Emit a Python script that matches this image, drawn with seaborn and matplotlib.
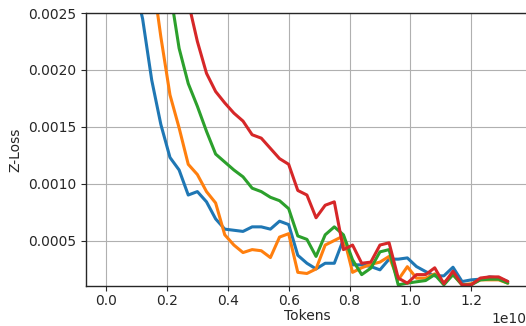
import matplotlib
matplotlib.use("Agg")
import matplotlib.pyplot as plt
import seaborn as sns
import pandas as pd

# Tokens in units of 1e9
tokens_e9 = [0.0, 0.3, 0.6, 0.9, 1.2, 1.5, 1.8, 2.1, 2.4, 2.7, 3.0, 3.3, 3.6, 3.9, 4.2,
             4.5, 4.8, 5.1, 5.4, 5.7, 6.0, 6.3, 6.6, 6.9, 7.2, 7.5, 7.8, 8.1, 8.4, 8.7,
             9.0, 9.3, 9.6, 9.9, 10.2, 10.5, 10.8, 11.1, 11.4, 11.7, 12.0, 12.3, 12.6,
             12.9, 13.2]

run_1 = [0.0200, 0.0090, 0.0045, 0.00279, 0.00245, 0.00191, 0.00152, 0.00123, 0.00112,
         0.00090, 0.00093, 0.00084, 0.00069, 0.00060, 0.00059, 0.00058, 0.00062, 0.00062,
         0.00060, 0.00067, 0.00064, 0.00037, 0.00030, 0.00025, 0.00030, 0.00030, 0.00051,
         0.000286, 0.000286, 0.000271, 0.000242, 0.000336, 0.000336, 0.000347, 0.000271,
         0.000227, 0.000189, 0.000189, 0.000265, 0.000139, 0.000154, 0.00016, 0.00018,
         0.000171, 0.000139]

run_2 = [0.030, 0.014, 0.0070, 0.0045, 0.0035, 0.00287, 0.00229, 0.00178, 0.00149,
         0.00117, 0.00108, 0.00093, 0.00083, 0.00055, 0.00046, 0.000394, 0.00042, 0.00041,
         0.00035, 0.00053, 0.00056, 0.00022, 0.00021, 0.00025, 0.00046, 0.00050, 0.00054,
         0.00022, 0.00026, 0.00029, 0.00031, 0.00036, 0.000154, 0.00027, 0.000169,
         0.000169, 0.000207, 0.00013, 0.00020, 0.00011, 0.00012, 0.000154, 0.000154,
         0.000154, 0.000125]

run_3 = [0.040, 0.020, 0.010, 0.0065, 0.0048, 0.0038, 0.0032, 0.0027, 0.00219,
         0.00188, 0.00168, 0.00146, 0.00126, 0.00119, 0.00112, 0.00106, 0.00096, 0.00093,
         0.00088, 0.00085, 0.00078, 0.00054, 0.00051, 0.00036, 0.00055, 0.00062, 0.00055,
         0.00033, 0.00020, 0.000257, 0.00040, 0.00042, 0.00011, 0.000125, 0.000137,
         0.000148, 0.00020, 0.00011, 0.00020, 0.00011, 0.00011, 0.000154, 0.00016,
         0.00016, 0.000125]

run_4 = [0.050, 0.025, 0.014, 0.0090, 0.0065, 0.0050, 0.0041, 0.0034, 0.0030,
         0.0026, 0.00225, 0.00197, 0.00181, 0.00171, 0.00162, 0.00155, 0.00143, 0.00140,
         0.00131, 0.00122, 0.00117, 0.00094, 0.00090, 0.00070, 0.00081, 0.00084, 0.00042,
         0.00046, 0.00030, 0.00031, 0.00046, 0.00048, 0.00017, 0.000125, 0.00020,
         0.00020, 0.00026, 0.00012, 0.00023, 0.00011, 0.00011, 0.00017, 0.00018,
         0.00018, 0.00014]

series_names = ["run 1", "run 2", "run 3", "run 4"]
series_values = [run_1, run_2, run_3, run_4]

rows = []
for name, vals in zip(series_names, series_values):
    for t, v in zip(tokens_e9, vals):
        rows.append({"Tokens": t * 1e9, "Z-Loss": v, "run": name})
df = pd.DataFrame(rows)

sns.set_style("ticks")
plt.rcParams['font.family'] = ['DejaVu Sans']

fig = plt.figure(figsize=(5.26, 3.26), dpi=100)
ax = fig.add_axes([0.1635, 0.1227, 0.84, 0.8373])

sns.lineplot(data=df, x="Tokens", y="Z-Loss", hue="run",
             palette=sns.color_palette("tab10", 4), linewidth=2.2,
             legend=False, ax=ax, sort=False)

ax.set_ylim(0.0001, 0.0025)
ax.set_xlim(-0.066e10, 1.386e10)
ax.grid(True, color="#b0b0b0", linewidth=0.8)
ax.tick_params(labelsize=10, length=3.5, width=0.8)
ax.tick_params(axis="x", pad=2.5)
ax.set_xlabel("Tokens", fontsize=10, labelpad=0.5)
ax.set_ylabel("Z-Loss", fontsize=10)
ax.xaxis.get_offset_text().set_x(0.996)
for s in ax.spines.values():
    s.set_color("#262626")
    s.set_linewidth(1.0)

fig.savefig("out.png", dpi=100)
